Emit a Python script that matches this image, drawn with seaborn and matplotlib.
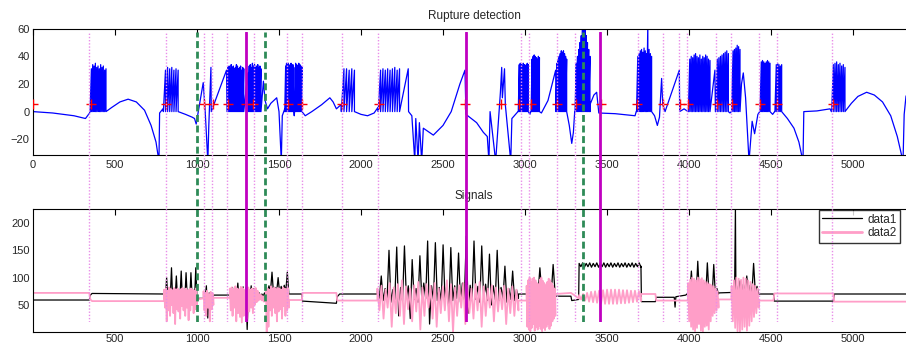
import numpy as np
import matplotlib
matplotlib.use("Agg")
import matplotlib.pyplot as plt
import seaborn as sns

# ==========================================
# DATA
# ==========================================

X_MAX = 5378

# red + markers on the rupture curve
plus_x = [0, 352, 808, 1043, 1100, 1190, 1297, 1343, 1555, 1642, 1882, 2110,
          2634, 2855, 2966, 3037, 3193, 3309, 3463, 3681, 3840, 3945, 3992,
          4169, 4264, 4433, 4539, 4880]
plus_level = 5.5

# vertical marker lines (span both panels)
dotted_x = [343, 808, 1043, 1093, 1181, 1348, 1547, 1642, 1882, 2102, 2973,
            3026, 3193, 3303, 3687, 3840, 3941, 3990, 4163, 4256, 4425, 4535, 4870]
dashed_x = [998, 1415, 3355]
solid_x = [1299, 2638, 3457]

# rupture curve: smooth stretches (x, y)
rupture_curves = [
    [(0, 0), (120, -1), (250, -3), (320, -5), (345, -1)],
    [(445, 0), (480, 3), (530, 7), (580, 9), (630, 7), (680, 1), (720, -10),
     (750, -22), (768, -36), (772, -1), (792, 2)],
    [(885, 0), (930, -2), (970, -4), (985, -5), (995, -9), (1038, 21), (1050, 0),
     (1066, -36), (1072, -10), (1085, 32), (1087, 0), (1180, 30)],
    [(1285, 0), (1310, 28)],
    [(1390, 0), (1405, 22), (1415, 8), (1430, 2), (1450, 6), (1486, 10),
     (1500, 0), (1514, -36), (1520, -3), (1535, 2)],
    [(1590, 0), (1593, -3)],
    [(1640, 0), (1660, -3), (1700, 0), (1760, 5), (1810, 10), (1830, 7),
     (1850, 2), (1878, 5)],
    [(1960, 0), (2000, -2), (2040, -3), (2080, -1), (2103, 3)],
    [(2235, 0), (2288, 31), (2290, 0), (2310, -3), (2328, -36), (2334, -5),
     (2348, -36), (2356, -8), (2370, -36), (2380, -12), (2441, -17), (2500, -10),
     (2550, 0), (2603, 20), (2634, 30), (2640, -2), (2705, -8), (2746, -15),
     (2770, -18), (2780, -36), (2787, 0), (2821, -36), (2850, 14), (2858, 32),
     (2862, 10), (2875, 31), (2880, 5), (2913, -36), (2920, -5), (2957, 0)],
    [(3020, 0), (3030, -2), (3035, 0)],
    [(3088, 0), (3100, -1), (3140, 8), (3187, 30)],
    [(3254, 0), (3270, -10), (3285, -23), (3295, -15), (3303, 0)],
    [(3396, 5), (3420, 12), (3437, 14), (3450, -1), (3550, -1.5), (3671, -3), (3678, 0)],
    [(3772, 0), (3790, -3), (3807, -10), (3820, -4), (3833, 24), (3840, 5),
     (3854, 0), (3941, 30), (3943, 0), (3970, 2), (3994, 0)],
    [(4128, 0), (4158, 30), (4161, 0)],
    [(4240, 0), (4250, -1), (4258, 0)],
    [(4311, 0), (4320, 20), (4331, 28), (4345, 10), (4366, -36), (4385, -7),
     (4400, -16), (4420, -2), (4431, 0)],
    [(4494, 0), (4510, -2), (4522, 0)],
    [(4565, 0), (4600, -5), (4640, -12), (4670, -22), (4695, -36), (4700, 0),
     (4780, 0.5), (4860, 2), (4868, 0)],
    [(4951, 0), (4990, 6), (5030, 11), (5083, 14), (5130, 12), (5180, 7),
     (5230, -3), (5270, -18), (5305, -36), (5312, -2), (5323, 11), (5378, 25)],
]

# rupture curve: spike bursts (start, end, peak heights)
rupture_bursts = [
    (348, 445, [31, 34, 33, 35, 32, 33, 31, 34, 32, 33, 30, 31]),
    (795, 885, [30, 32, 31, 32, 30, 31, 30]),
    (1183, 1285, [32, 33, 31, 34, 32, 33, 31, 32, 34, 33, 31, 32, 33, 30, 32, 31]),
    (1312, 1390, [33, 34, 32, 35, 33, 34, 32, 33, 34, 32, 33, 31]),
    (1535, 1590, [33, 35, 34, 35, 33, 34, 35, 33, 34, 32]),
    (1595, 1640, [35, 34, 33, 35, 34, 33, 32]),
    (1880, 1960, [31, 31, 30, 31, 30]),
    (2105, 2235, [30, 31, 30, 31, 30, 31, 32, 30, 31]),
    (2959, 3020, [34, 35, 34, 33, 35, 34, 33, 34, 35, 34]),
    (3037, 3088, [38, 40, 41, 40, 39, 38, 40, 39]),
    (3189, 3254, [35, 38, 40, 42, 44, 43, 44, 42, 40, 38]),
    (3305, 3396, [35, 40, 45, 50, 55, 62, 66, 62, 55, 50, 45, 40]),
    (3680, 3772, [40, 42, 44, 45, 43, 46, 44, 42, 65, 45, 42, 40]),
    (3996, 4128, [38, 40, 39, 41, 42, 40, 39, 41, 38, 40, 39, 41, 40, 38, 37]),
    (4163, 4240, [38, 39, 40, 41, 42, 43, 44, 42]),
    (4260, 4311, [44, 45, 46, 48, 47, 45]),
    (4433, 4494, [36, 37, 36, 35, 36, 37, 36, 35]),
    (4524, 4565, [34, 35, 34, 33, 34]),
    (4870, 4951, [34, 35, 36, 34, 35, 33, 34, 32]),
]

# signals: data1 flat stretches and noisy bursts (start, end, highs, lows)
data1_curves = [
    [(0, 59), (343, 59), (350, 68), (360, 71), (800, 70)],
    [(1000, 62), (1040, 62)],
    [(1100, 68), (1200, 68)],
    [(1560, 70), (1640, 70), (1643, 57), (1850, 53), (1855, 65), (1870, 70), (2100, 70)],
    [(2960, 70), (3010, 70)],
    [(3185, 66), (3280, 66), (3285, 58), (3327, 60)],
    [(3707, 121), (3710, 56), (3795, 56), (3800, 64), (3910, 64), (3915, 46),
     (3920, 65), (3980, 68), (3995, 72)],
    [(4180, 72), (4278, 73), (4283, 228), (4286, 73), (4290, 74)],
    [(4425, 70), (4515, 70), (4520, 57), (4880, 57), (4885, 70), (5378, 70)],
]
data1_bursts = [
    (800, 1000, [72, 100, 75, 118, 74, 103, 76, 112, 73, 109, 75, 109, 74, 118],
     [62, 60, 63, 58, 62, 60, 64, 59, 61, 62, 60, 63, 61, 60]),
    (1040, 1100, [70, 85, 72, 70], [60, 26, 62, 64]),
    (1200, 1420, [78, 82, 80, 90, 79, 83, 81, 78, 85, 80, 75, 72, 70, 72],
     [62, 60, 64, 58, 62, 61, 5, 60, 63, 62, 64, 65, 66, 65]),
    (1420, 1560, [80, 85, 110, 82, 100, 84, 86, 110], [72, 74, 70, 73, 71, 72, 74, 70]),
    (2100, 2960, [75, 103, 80, 150, 78, 156, 82, 158, 85, 133, 80, 140, 90, 167,
                  85, 164, 82, 160, 88, 155, 85, 145, 90, 176, 86, 167, 84, 158,
                  88, 143, 85, 150, 82, 121, 80, 112, 78],
     [62, 58, 60, 55, 60, 30, 58, 62, 25, 60, 55, 58, 62, 15, 60, 58, 55, 60,
      40, 58, 62, 55, 60, 35, 58, 60, 55, 62, 58, 50, 60, 58, 62, 55, 60, 58, 62]),
    (3010, 3185, [72, 75, 74, 118, 73, 76, 124], [64, 63, 62, 64, 63, 62, 64]),
    (3330, 3707, [126, 127, 126, 127, 126, 127, 126, 127, 126, 127, 126, 127,
                  126, 127, 126, 127, 126, 127],
     [120, 119, 120, 119, 120, 119, 120, 119, 120, 119, 120, 119, 120, 119,
      120, 119, 120, 119]),
    (3995, 4180, [80, 112, 85, 130, 82, 90, 127, 85, 124, 80],
     [70, 68, 65, 70, 66, 68, 70, 65, 69, 70]),
    (4290, 4425, [85, 94, 88, 103, 86, 126, 84], [72, 70, 74, 68, 71, 73, 70]),
]

# signals: data2
data2_curves = [
    [(0, 72), (343, 72), (350, 60), (360, 57), (800, 57)],
    [(1000, 60), (1040, 62)],
    [(1100, 63), (1200, 63)],
    [(1560, 59), (1640, 59), (1643, 72), (1850, 72), (1855, 58), (2100, 58)],
    [(2960, 58), (3010, 58)],
    [(3185, 70), (3280, 72), (3300, 68), (3327, 62)],
    [(3707, 70), (3795, 70), (3800, 58), (3995, 58)],
    [(4180, 60), (4258, 60)],
    [(4425, 58), (4515, 58), (4520, 71), (4880, 71), (4885, 56), (5378, 56)],
]
data2_bursts = [
    (800, 1000, [78, 80, 76, 82, 79, 77, 81, 78, 80, 76, 79, 81, 78, 80, 77, 79, 80, 78, 76, 80],
     [45, 20, 40, 30, 50, 35, 15, 42, 38, 25, 48, 40, 30, 45, 22, 40, 50, 35, 42, 48]),
    (1040, 1100, [75, 72, 76, 70, 74, 72], [40, 30, 45, 20, 42, 50]),
    (1200, 1420, [80, 82, 78, 84, 80, 79, 83, 81, 77, 80, 82, 78, 80, 79, 81, 76, 70, 68, 66, 65],
     [40, 30, 45, 20, 35, 28, 18, 30, 42, 25, 38, 45, 35, 50, 55, 58, 60, 58, 56, 60]),
    (1420, 1560, [82, 80, 78, 84, 80, 82, 79, 81, 80, 78, 82, 80, 79, 81],
     [0, 10, 40, 30, 45, 35, 20, 38, 42, 25, 48, 30, 40, 45]),
    (2100, 2960, [80, 85, 78, 90, 82, 88, 95, 84, 80, 86, 92, 82, 88, 85, 90, 80, 84, 95,
                  88, 82, 86, 90, 85, 80, 88, 92, 84, 80, 86, 82, 78, 85, 80, 84, 78],
     [40, 25, 45, 10, 35, 30, 15, 42, 20, 38, 5, 30, 45, 25, 10, 35, 40, 20, 0, 30,
      45, 15, 35, 25, 40, 10, 30, 45, 20, 38, 42, 15, 35, 30, 40]),
    (3010, 3185, [85, 95, 100, 92, 98, 100, 95, 90, 88, 96, 100, 94, 90, 86, 92, 98, 95, 90, 85, 80],
     [10, 5, 2, 8, 15, 3, 10, 5, 12, 6, 2, 8, 4, 10, 15, 6, 12, 20, 25, 30]),
    (3330, 3707, [68, 70, 72, 74, 75, 76, 77, 78, 78, 78, 78, 77, 77, 76, 76, 75],
     [60, 58, 56, 55, 54, 53, 52, 52, 52, 52, 53, 53, 54, 55, 56, 57]),
    (3995, 4180, [90, 96, 100, 98, 95, 100, 97, 99, 95, 92, 90, 88, 86, 84, 80, 75],
     [20, 10, 5, 2, 8, 15, 3, 0, 10, 12, 5, 20, 30, 35, 40, 45]),
    (4260, 4425, [85, 95, 100, 98, 96, 100, 98, 95, 92, 88, 85, 80],
     [20, 8, 2, 0, 5, 10, 3, 12, 20, 28, 35, 45]),
]

# ==========================================
# HELPERS
# ==========================================

def sawtooth(x0, x1, peaks):
    # each tooth rises from 0 to its peak and drops straight back
    edges = np.linspace(x0, x1, len(peaks) + 1)
    pts = []
    for i, h in enumerate(peaks):
        pts += [(edges[i], 0), (edges[i + 1], h), (edges[i + 1], 0)]
    return pts


def zigzag(x0, x1, highs, lows):
    ys = [v for pair in zip(highs, lows) for v in pair]
    xs = np.linspace(x0, x1, len(ys))
    return list(zip(xs, ys))


def join(curves, bursts, burst_fn):
    pieces = [(c[0][0], c) for c in curves]
    pieces += [(b[0], burst_fn(*b)) for b in bursts]
    pieces.sort(key=lambda p: p[0])
    return np.array([pt for _, piece in pieces for pt in piece], dtype=float)


# ==========================================
# PLOT
# ==========================================

sns.set_style("white")
plt.rcParams['font.family'] = ['Liberation Sans', 'DejaVu Sans']

FS = 8.5
TICK_FS = 8
LEFT, WIDTH = 33 / 906, 882 / 906

fig = plt.figure(figsize=(9.06, 3.47), dpi=100)
ax1 = fig.add_axes([LEFT, 0.5533, WIDTH, 0.364])
ax2 = fig.add_axes([LEFT, 0.0441, WIDTH, 0.3536])

# Rupture detection

rup = join(rupture_curves, rupture_bursts, sawtooth)

sns.lineplot(x=rup[:, 0], y=rup[:, 1], sort=False, estimator=None,
             color='#0000ff', linewidth=0.9, ax=ax1)

sns.scatterplot(x=plus_x, y=[plus_level] * len(plus_x), marker='+',
                color='red', s=45, linewidth=1, ax=ax1, zorder=3)

ax1.set_xlim(0, X_MAX)
ax1.set_ylim(-31.4, 60)
ax1.set_yticks([-20, 0, 20, 40, 60])
ax1.set_xticks(range(0, 5001, 500))
ax1.set_title("Rupture detection", fontsize=FS, pad=7)

# Signals

d1 = join(data1_curves, data1_bursts, zigzag)
d2 = join(data2_curves, data2_bursts, zigzag)

sns.lineplot(x=d1[:, 0], y=d1[:, 1], sort=False, estimator=None,
             color='black', linewidth=0.9, label='data1', ax=ax2)
sns.lineplot(x=d2[:, 0], y=d2[:, 1], sort=False, estimator=None,
             color='#ff9ec8', linewidth=1.3, label='data2', ax=ax2)

ax2.set_xlim(0, X_MAX)
ax2.set_ylim(1, 225.6)
ax2.set_yticks([50, 100, 150, 200])
ax2.set_xticks(range(500, 5001, 500))
ax2.set_title("Signals", fontsize=FS, pad=7)

leg = ax2.legend(loc='upper right', bbox_to_anchor=(900 / 906, 1 - 210 / 347),
                 bbox_transform=fig.transFigure, frameon=True, fancybox=False,
                 edgecolor='black', fontsize=FS, handlelength=3.4,
                 borderpad=0.3, labelspacing=0.15, handletextpad=0.4,
                 borderaxespad=0)
leg.get_frame().set_linewidth(1)
leg.get_lines()[1].set_linewidth(2)

for ax in [ax1, ax2]:
    ax.set_xlabel("")
    ax.set_ylabel("")
    ax.tick_params(direction='in', top=True, right=True, length=4, width=0.8,
                   labelsize=TICK_FS, color='black')
    ax.tick_params(axis='y', pad=2.5)
    for sp in ax.spines.values():
        sp.set_color('black')
        sp.set_linewidth(0.8)

ax1.tick_params(axis='x', pad=3.5)
ax2.tick_params(axis='x', pad=2)

# marker lines across both panels

ov = fig.add_axes([LEFT, 1 - 321.5 / 347, WIDTH, (321.5 - 32) / 347])
ov.set_xlim(0, X_MAX)
ov.set_ylim(0, 1)
ov.axis('off')

for x in dotted_x:
    ov.axvline(x, color='#e98ee9', linewidth=1, linestyle=(0, (1, 1.3)))
for x in dashed_x:
    ov.axvline(x, color='#2e8b57', linewidth=2, linestyle=(0, (2.5, 1.3)))
for x in solid_x:
    ov.axvline(x, color='#c000c0', linewidth=2)

fig.savefig("out.png", dpi=100)
